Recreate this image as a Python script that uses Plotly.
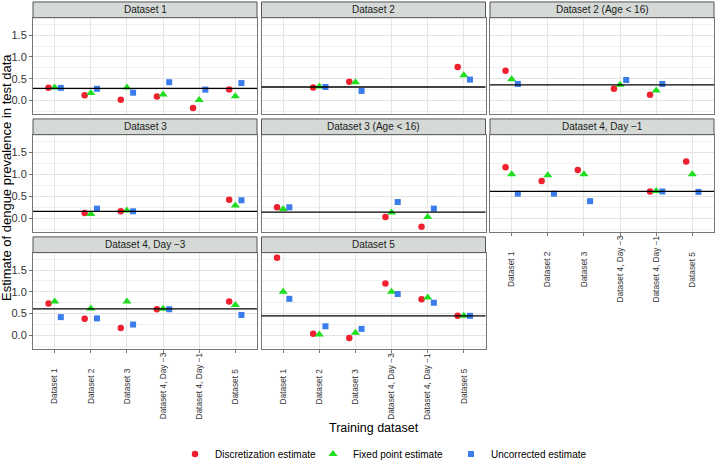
import plotly.graph_objects as go

W, H = 715, 469

categories = ["Dataset 1", "Dataset 2", "Dataset 3",
              "Dataset 4, Day \u22123", "Dataset 4, Day \u22121", "Dataset 5"]

panels = ["Dataset 1", "Dataset 2", "Dataset 2 (Age < 16)",
          "Dataset 3", "Dataset 3 (Age < 16)", "Dataset 4, Day \u22121",
          "Dataset 4, Day \u22123", "Dataset 5"]

true_values = [0.28, 0.31, 0.36, 0.16, 0.14, 0.61, 0.61, 0.45]

discretization = [
    [0.29, 0.12, 0.02, 0.09, -0.17, 0.25],
    [None, 0.30, 0.43, None, None, 0.77],
    [0.68, None, None, 0.27, 0.13, None],
    [None, 0.12, 0.16, None, None, 0.42],
    [0.25, None, None, 0.03, -0.19, None],
    [1.16, 0.85, 1.10, None, 0.61, 1.29],
    [0.73, 0.38, 0.17, 0.60, None, 0.78],
    [1.78, 0.04, -0.06, 1.19, 0.83, 0.45],
]
fixed_point = [
    [0.30, 0.17, 0.30, 0.14, 0.01, 0.10],
    [None, 0.32, 0.42, None, None, 0.58],
    [0.49, None, None, 0.36, 0.23, None],
    [None, 0.10, 0.18, None, None, 0.29],
    [0.21, None, None, 0.13, 0.03, None],
    [1.00, 0.98, 1.00, None, 0.62, 1.00],
    [0.78, 0.62, 0.78, 0.61, None, 0.70],
    [1.00, 0.02, 0.06, 1.00, 0.87, 0.45],
]
uncorrected = [
    [0.29, 0.27, 0.18, 0.42, 0.25, 0.40],
    [None, 0.31, 0.22, None, None, 0.48],
    [0.38, None, None, 0.47, 0.38, None],
    [None, 0.22, 0.16, None, None, 0.41],
    [0.25, None, None, 0.37, 0.22, None],
    [0.56, 0.56, 0.39, None, 0.61, 0.60],
    [0.42, 0.39, 0.25, 0.60, None, 0.47],
    [0.84, 0.21, 0.15, 0.95, 0.75, 0.45],
]

series = [
    ("Discretization estimate", discretization, "circle", "#F0202E", 6.5, -0.17),
    ("Fixed point estimate", fixed_point, "triangle-up", "#1FDD1F", 8, 0.0),
    ("Uncorrected estimate", uncorrected, "square", "#3A7CEB", 6, 0.17),
]

# layout geometry (pixels)
col_x = [(33, 257), (261.5, 485.5), (490, 714)]
row_y = [(18, 116), (137, 236), (257, 355)]
strip_h = 16
grid_pos = [(0, 0), (0, 1), (0, 2), (1, 0), (1, 1), (1, 2), (2, 0), (2, 1)]
xlabel_panels = {5, 6, 7}
label_center_offset = 38

FONT = "Liberation Sans, Arial, Helvetica, sans-serif"
fig = go.Figure()
layout = {}
shapes = []
annotations = []

xs = list(range(1, len(categories) + 1))

for p, name in enumerate(panels):
    r, c = grid_pos[p]
    x0, x1 = col_x[c]
    yt, yb = row_y[r]
    sfx = "" if p == 0 else str(p + 1)
    xa, ya = "x" + sfx, "y" + sfx
    has_xlab = p in xlabel_panels
    layout["xaxis" + sfx] = dict(
        domain=[x0 / W, x1 / W], anchor=ya, range=[0.4, 6.6],
        tickvals=xs, ticktext=categories,
        showticklabels=False,
        ticks="outside" if has_xlab else "", ticklen=3, tickcolor="#777",
        showgrid=True, gridcolor="#E6E6E6", gridwidth=0.8,
        showline=True, mirror=True, linecolor="#777", linewidth=1,
        zeroline=False, fixedrange=True,
    )
    layout["yaxis" + sfx] = dict(
        domain=[1 - yb / H, 1 - yt / H], anchor=xa, range=[-0.31, 1.90],
        tickvals=[0, 0.5, 1.0, 1.5], ticktext=["0.0", "0.5", "1.0", "1.5"],
        showticklabels=(c == 0),
        ticks="outside" if c == 0 else "", ticklen=3, tickcolor="#777",
        tickfont=dict(size=11, color="#333", family=FONT),
        showgrid=True, gridcolor="#E3E3E3", gridwidth=0.8,
        minor=dict(tickvals=[-0.25, 0.25, 0.75, 1.25, 1.75],
                   showgrid=True, gridcolor="#F0F0F0", gridwidth=0.6),
        showline=True, mirror=True, linecolor="#777", linewidth=1,
        zeroline=False, fixedrange=True,
    )
    # centred, rotated category labels (ggplot style)
    if has_xlab:
        for xv, lab in zip(xs, categories):
            annotations.append(dict(text=lab, xref=xa, yref="paper",
                                    x=xv, y=1 - (yb + label_center_offset) / H,
                                    textangle=-90, showarrow=False,
                                    xanchor="center", yanchor="middle",
                                    font=dict(size=8.3, color="#333", family=FONT)))
    # true value line
    shapes.append(dict(type="line", xref=xa + " domain", yref=ya,
                       x0=0, x1=1, y0=true_values[p], y1=true_values[p],
                       line=dict(color="black", width=1.3), layer="above"))
    # strip
    shapes.append(dict(type="rect", xref="paper", yref="paper",
                       x0=x0 / W, x1=x1 / W,
                       y0=1 - yt / H, y1=1 - (yt - strip_h) / H,
                       fillcolor="#D5DAD6", line=dict(color="#555", width=1)))
    annotations.append(dict(text=name, xref="paper", yref="paper",
                            x=(x0 + x1) / 2 / W, y=1 - (yt - strip_h / 2) / H,
                            showarrow=False, xanchor="center", yanchor="middle",
                            font=dict(size=10, color="#1a1a1a", family=FONT)))
    for (sname, data, sym, col, size, off) in series:
        vals = data[p]
        px = [x + off for x, v in zip(xs, vals) if v is not None]
        py = [v for v in vals if v is not None]
        fig.add_trace(go.Scatter(
            x=px, y=py, mode="markers", name=sname, xaxis=xa, yaxis=ya,
            marker=dict(symbol=sym, color=col, size=size, line=dict(width=0)),
            showlegend=(p == 0), legendgroup=sname, cliponaxis=False,
        ))

annotations.append(dict(text="Training dataset", xref="paper", yref="paper",
                        x=374 / W, y=1 - 435 / H, showarrow=False,
                        xanchor="center", yanchor="middle",
                        font=dict(size=12.5, color="black", family=FONT)))
annotations.append(dict(text="Estimate of dengue prevalence in test data",
                        xref="paper", yref="paper", x=7 / W, y=1 - 181 / H,
                        textangle=-90, showarrow=False,
                        xanchor="center", yanchor="middle",
                        font=dict(size=13, color="black", family=FONT)))

fig.update_layout(
    width=W, height=H, margin=dict(l=0, r=0, t=0, b=0),
    paper_bgcolor="white", plot_bgcolor="white",
    shapes=shapes, annotations=annotations,
    legend=dict(orientation="h", x=382 / W, xanchor="center",
                y=1 - 462 / H, yanchor="middle",
                font=dict(size=10, color="black", family=FONT),
                itemwidth=30, entrywidth=93, entrywidthmode="pixels",
                tracegroupgap=0, bgcolor="rgba(0,0,0,0)"),
    **layout,
)

fig.write_html("out.html")
